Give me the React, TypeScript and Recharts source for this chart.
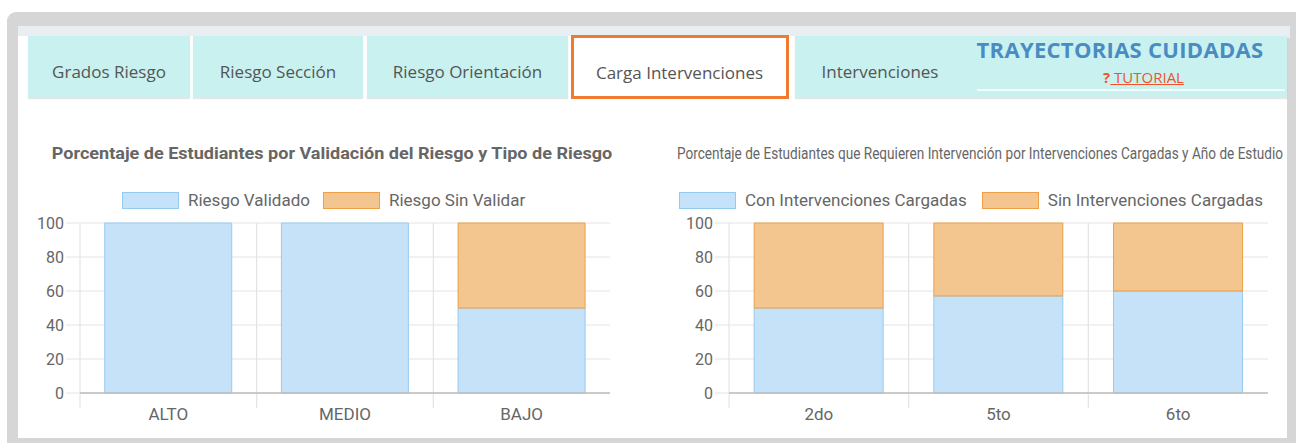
import React from 'react';
import { BarChart, Bar, XAxis, YAxis, CartesianGrid, ReferenceLine } from 'recharts';

// ---- data ----
const tabLabels = ['Grados Riesgo', 'Riesgo Sección', 'Riesgo Orientación', 'Carga Intervenciones', 'Intervenciones'];
const activeTab = 3;
const brandTitle = 'TRAYECTORIAS CUIDADAS';
const tutorialLabel = 'TUTORIAL';

const riskTitle = 'Porcentaje de Estudiantes por Validación del Riesgo y Tipo de Riesgo';
const riskSeriesNames = ['Riesgo Validado', 'Riesgo Sin Validar'];
const riskLevels = ['ALTO', 'MEDIO', 'BAJO'];
const riskValidated = [100, 100, 50];
const riskNotValidated = [0, 0, 50];

const interventionTitle =
  'Porcentaje de Estudiantes que Requieren Intervención por Intervenciones Cargadas y Año de Estudio';
const interventionSeriesNames = ['Con Intervenciones Cargadas', 'Sin Intervenciones Cargadas'];
const studyYears = ['2do', '5to', '6to'];
const withInterventions = [50, 57.1, 60];
const withoutInterventions = [50, 42.9, 40];

const percentTicks = [0, 20, 40, 60, 80, 100];

// ---- styles ----
const BLUE_FILL = '#c5e2f8';
const BLUE_STROKE = '#96cbf1';
const ORANGE_FILL = '#f3c690';
const ORANGE_STROKE = '#efa046';
const GRID = '#e4e4e4';
const AXIS = '#bcbcbc';
const TEXT = '#666666';
const CHART_FONT = 'Roboto, "Liberation Sans", Arial, sans-serif';
const UI_FONT = '"Open Sans", "Noto Sans", sans-serif';

// tab strip geometry: left edge, width, text box width
const TAB_LAYOUT = [
  [28, 162, 162],
  [193, 170, 170],
  [367, 201, 201],
  [571, 218, 218],
  [795, 492, 170],
];

// Text squeezed horizontally to a fixed width (like a canvas maxWidth title).
function FitText({
  text,
  center,
  top,
  width,
  weight,
}: {
  text: string;
  center: number;
  top: number;
  width: number;
  weight: number;
}) {
  const ref = React.useRef<HTMLSpanElement>(null);
  const [scale, setScale] = React.useState(1);
  React.useLayoutEffect(() => {
    const el = ref.current;
    if (el && el.offsetWidth > 0) setScale(width / el.offsetWidth);
  }, [text, width]);
  return (
    <span
      ref={ref}
      style={{
        position: 'absolute',
        left: center,
        top,
        whiteSpace: 'nowrap',
        fontFamily: CHART_FONT,
        fontSize: 17,
        fontWeight: weight,
        lineHeight: '26px',
        color: TEXT,
        transform: `translateX(-50%) scaleX(${scale})`,
      }}
    >
      {text}
    </span>
  );
}

function ChartLegend({ names, left, gap }: { names: string[]; left: number; gap: number }) {
  const swatches = [
    [BLUE_FILL, BLUE_STROKE],
    [ORANGE_FILL, ORANGE_STROKE],
  ];
  return (
    <div
      style={{
        position: 'absolute',
        left,
        top: 190,
        height: 20,
        display: 'flex',
        alignItems: 'center',
        gap,
        fontFamily: CHART_FONT,
        fontSize: 17,
        color: TEXT,
        whiteSpace: 'nowrap',
      }}
    >
      {names.map((n, i) => (
        <div key={n} style={{ display: 'flex', alignItems: 'center' }}>
          <div
            style={{
              width: 57,
              height: 17,
              boxSizing: 'border-box',
              background: swatches[i][0],
              border: `1.5px solid ${swatches[i][1]}`,
              marginRight: 9,
            }}
          />
          <span>{n}</span>
        </div>
      ))}
    </div>
  );
}

type ChartProps = {
  left: number;
  width: number;
  rightMargin: number;
  yAxisWidth: number;
  categories: string[];
  first: number[];
  second: number[];
  names: string[];
  title: string;
  titleWeight: number;
  titleCenter: number;
  titleWidth: number;
  legendLeft: number;
  legendGap: number;
};

function StackedPercentChart(p: ChartProps) {
  const data = p.categories.map((c, i) => ({ cat: c, a: p.first[i], b: p.second[i] }));
  return (
    <>
      <FitText text={p.title} center={p.titleCenter} top={140} width={p.titleWidth} weight={p.titleWeight} />
      <ChartLegend names={p.names} left={p.legendLeft} gap={p.legendGap} />
      <div style={{ position: 'absolute', left: p.left, top: 215 }}>
        <BarChart
          width={p.width}
          height={215}
          data={data}
          margin={{ top: 8, right: p.rightMargin, bottom: 0, left: 0 }}
          barCategoryGap="14%"
        >
          <CartesianGrid vertical={false} stroke={GRID} strokeWidth={1} />
          <XAxis
            dataKey="cat"
            height={37}
            tickLine={false}
            tickSize={15}
            tickMargin={0}
            axisLine={{ stroke: AXIS, strokeWidth: 1.5 }}
            tick={{ fill: TEXT, fontSize: 17, fontFamily: CHART_FONT }}
          />
          <YAxis
            width={p.yAxisWidth}
            domain={[0, 100]}
            ticks={percentTicks}
            interval={0}
            axisLine={false}
            tickSize={14}
            tickMargin={2}
            tickLine={{ stroke: GRID }}
            tick={{ fill: TEXT, fontSize: 16, fontFamily: CHART_FONT }}
          />
          {/* category separators, running a little below the axis */}
          {p.categories.map((c) => (
            <ReferenceLine
              key={c}
              position="start"
              ifOverflow="visible"
              segment={[
                { x: c, y: -9 },
                { x: c, y: 100 },
              ]}
              stroke={GRID}
              strokeWidth={1.2}
            />
          ))}
          <Bar
            dataKey="a"
            name={p.names[0]}
            stackId="s"
            fill={BLUE_FILL}
            stroke={BLUE_STROKE}
            strokeWidth={1}
            isAnimationActive={false}
          />
          <Bar
            dataKey="b"
            name={p.names[1]}
            stackId="s"
            fill={ORANGE_FILL}
            stroke={ORANGE_STROKE}
            strokeWidth={1}
            isAnimationActive={false}
          />
        </BarChart>
      </div>
    </>
  );
}

export default function App() {
  return (
    <div
      style={{
        position: 'absolute',
        left: 0,
        top: 0,
        width: 1296,
        height: 443,
        overflow: 'hidden',
        background: '#ffffff',
      }}
    >
      {/* outer frame */}
      <div
        style={{
          position: 'absolute',
          left: 7,
          top: 12,
          width: 1300,
          height: 440,
          background: '#d6d6d6',
          borderTopLeftRadius: 9,
        }}
      />
      {/* header strip */}
      <div style={{ position: 'absolute', left: 18, top: 26, width: 1272, height: 12, background: '#e9eef2' }} />
      {/* page body */}
      <div style={{ position: 'absolute', left: 18, top: 36, width: 1269, height: 402, background: '#ffffff' }} />

      {/* tabs */}
      {tabLabels.map((label, i) => {
        const [x, w, tw] = TAB_LAYOUT[i];
        const active = i === activeTab;
        return (
          <div
            key={label}
            style={{
              position: 'absolute',
              left: x,
              top: active ? 35 : 36,
              width: w,
              height: active ? 64 : 62,
              boxSizing: 'border-box',
              background: active ? '#ffffff' : '#c8f1f0',
              border: active ? '3.5px solid #ee7b30' : 'none',
              boxShadow: active ? 'none' : '0 1px 1px rgba(0,0,0,0.10)',
            }}
          >
            <div
              style={{
                position: 'absolute',
                left: active ? -3.5 : 0,
                width: tw,
                top: active ? 23 : 24,
                textAlign: 'center',
                fontFamily: UI_FONT,
                fontSize: 17,
                lineHeight: '24px',
                color: '#555555',
                whiteSpace: 'nowrap',
              }}
            >
              {label}
            </div>
          </div>
        );
      })}

      {/* brand block */}
      <div
        style={{
          position: 'absolute',
          left: 970,
          top: 34,
          width: 300,
          textAlign: 'center',
          fontFamily: UI_FONT,
          fontWeight: 700,
          fontSize: 22,
          letterSpacing: 0.3,
          lineHeight: '30px',
          color: '#4a8cc1',
          whiteSpace: 'nowrap',
        }}
      >
        {brandTitle}
      </div>
      <div
        style={{
          position: 'absolute',
          left: 1103,
          top: 66,
          fontFamily: UI_FONT,
          fontSize: 15,
          lineHeight: '22px',
          whiteSpace: 'pre',
          color: '#f0542c',
        }}
      >
        <span style={{ fontWeight: 700 }}>?</span>
        <span style={{ textDecoration: 'underline' }}>{' ' + tutorialLabel}</span>
      </div>
      <div
        style={{ position: 'absolute', left: 977, top: 89, width: 308, height: 2, background: 'rgba(255,255,255,0.75)' }}
      />

      <StackedPercentChart
        left={20}
        width={620}
        rightMargin={30}
        yAxisWidth={60}
        categories={riskLevels}
        first={riskValidated}
        second={riskNotValidated}
        names={riskSeriesNames}
        title={riskTitle}
        titleWeight={700}
        titleCenter={332}
        titleWidth={560}
        legendLeft={122}
        legendGap={13}
      />
      <StackedPercentChart
        left={668}
        width={622}
        rightMargin={22}
        yAxisWidth={61}
        categories={studyYears}
        first={withInterventions}
        second={withoutInterventions}
        names={interventionSeriesNames}
        title={interventionTitle}
        titleWeight={400}
        titleCenter={980}
        titleWidth={606}
        legendLeft={679}
        legendGap={15}
      />
    </div>
  );
}
